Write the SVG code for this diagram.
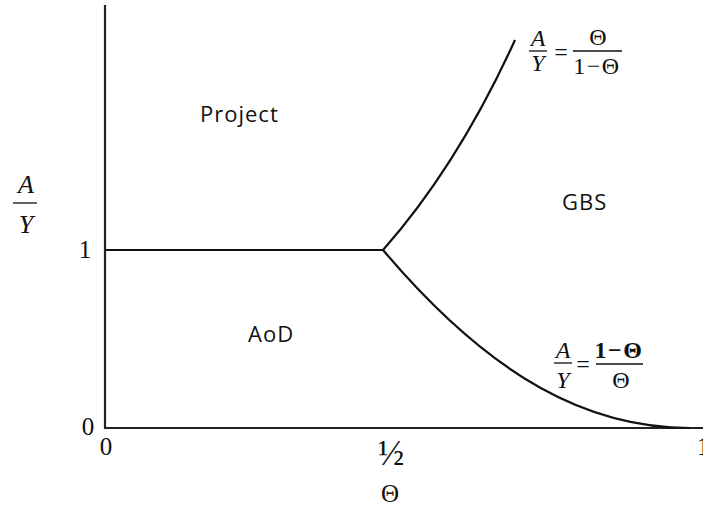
<svg xmlns="http://www.w3.org/2000/svg" width="703" height="509" viewBox="0 0 703 509">
<style>
.ax{stroke:#222;stroke-width:2.2;fill:none}
.cv{stroke:#111;stroke-width:2.2;fill:none}
.bar{stroke:#111;stroke-width:1.3}
.lbl{font-family:"Open Sans","DejaVu Sans",sans-serif;font-size:22px;letter-spacing:1px;fill:#111}
.m{font-family:"Liberation Serif","Times New Roman",serif;font-size:24px;fill:#111}
.mi{font-style:italic}
.mb{font-weight:bold}
.tk{font-family:"Liberation Serif","Times New Roman",serif;font-size:25px;fill:#111}
.ya{font-size:26px}
.half{font-size:35px}
</style>
<rect width="703" height="509" fill="#fff"/>
<g id="axes">
<path class="ax" d="M105 5 V428 H703"/>
</g>
<g id="connectors">
<path class="cv" d="M105 250 H383"/>
<path class="cv" d="M383 250 Q458 165 515 40"/>
<path class="cv" d="M383 250 C493 380 590 428 690 428"/>
</g>
<g id="region-project"><text class="lbl" x="200" y="122">Project</text></g>
<g id="region-aod"><text class="lbl" x="248" y="342">AoD</text></g>
<g id="region-gbs"><text class="lbl" x="562" y="210">GBS</text></g>
<g id="ylabel">
<text class="m mi ya" x="26" y="193" text-anchor="middle">A</text>
<line class="bar" x1="13" y1="203" x2="37" y2="203"/>
<text class="m mi ya" x="26" y="233" text-anchor="middle">Y</text>
</g>
<g id="ticks">
<text class="tk" x="85" y="258" text-anchor="middle">1</text>
<text class="tk" x="88" y="435" text-anchor="middle">0</text>
<text class="tk" x="106" y="455" text-anchor="middle">0</text>
<text class="tk half" x="391" y="465" text-anchor="middle">½</text>
<text class="tk" x="697" y="455">1</text>
<text class="tk" x="390" y="502" text-anchor="middle">Θ</text>
</g>
<g id="eq-upper">
<text class="m mi" x="538" y="46" text-anchor="middle">A</text>
<line class="bar" x1="529" y1="51" x2="547" y2="51"/>
<text class="m mi" x="538" y="71" text-anchor="middle">Y</text>
<text class="m" x="561" y="60" text-anchor="middle">=</text>
<text class="m" x="598" y="45" text-anchor="middle">Θ</text>
<line class="bar" x1="573" y1="51" x2="622" y2="51"/>
<text class="m" x="597" y="74" text-anchor="middle" letter-spacing="1.5">1−Θ</text>
</g>
<g id="eq-lower">
<text class="m mi" x="563" y="358" text-anchor="middle">A</text>
<line class="bar" x1="554" y1="363" x2="572" y2="363"/>
<text class="m mi" x="563" y="388" text-anchor="middle">Y</text>
<text class="m" x="583" y="372" text-anchor="middle">=</text>
<text class="m mb" x="619" y="358" text-anchor="middle" letter-spacing="1.5">1−Θ</text>
<line class="bar" x1="596" y1="364" x2="643" y2="364"/>
<text class="m" x="621" y="388" text-anchor="middle">Θ</text>
</g>
</svg>
